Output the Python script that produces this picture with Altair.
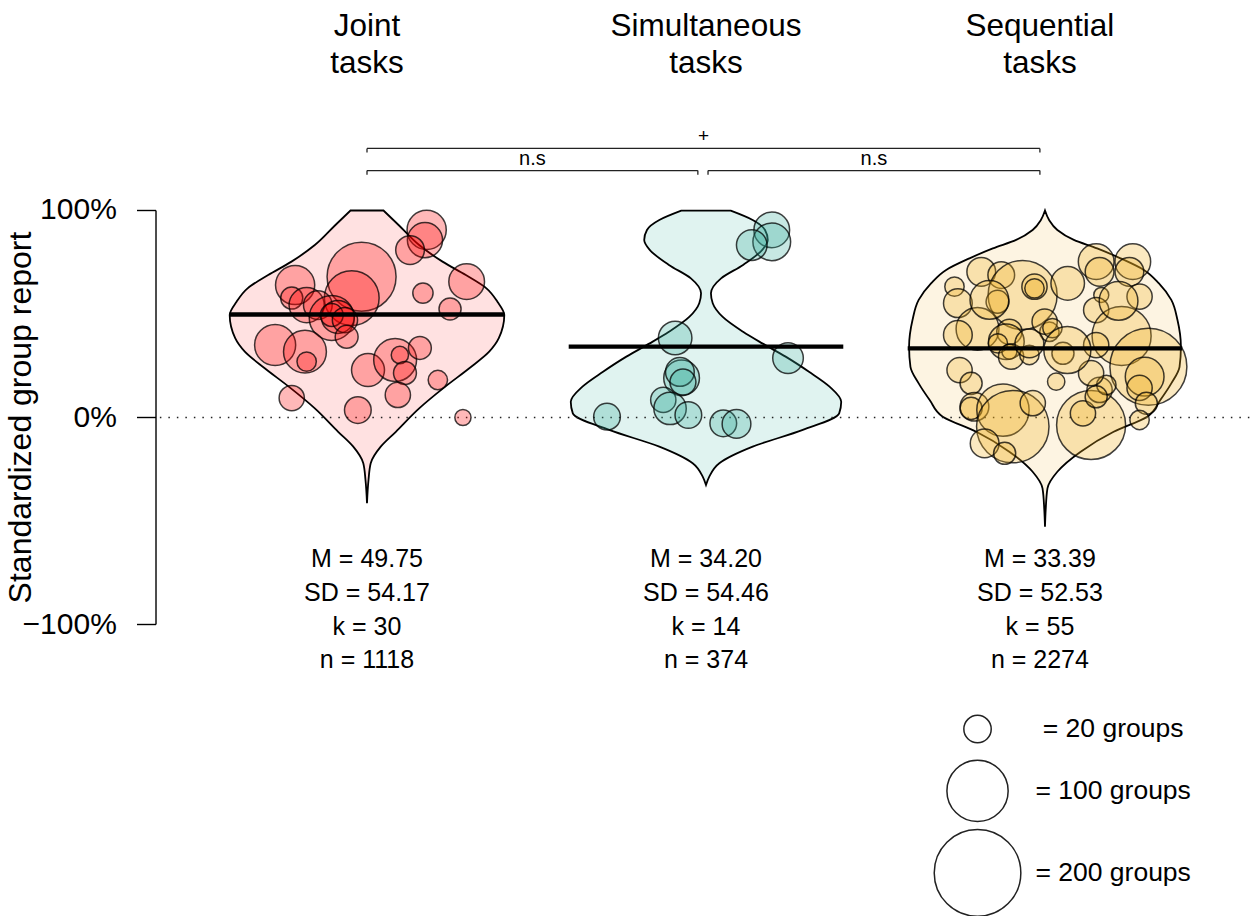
import altair as alt
import pandas as pd

# ---------------------------------------------------------------- data
groups = ["Joint", "Simultaneous", "Sequential"]
group_pos = [1.0, 2.0, 3.0]          # violin centres on the x scale
label_pos = [1.0, 2.0, 2.985]        # centres of the text under/above each violin
title_lines = [["Joint", "tasks"], ["Simultaneous", "tasks"], ["Sequential", "tasks"]]

point_colors = ["#ff0000", "#36ad9c", "#f0b020"]
violin_colors = ["#ffe1e1", "#e0f3f0", "#fdf4e2"]

means = [49.75, 34.20, 33.39]
sds = [54.17, 54.46, 52.53]
ks = [30, 14, 55]
ns = [1118, 374, 2274]

# violin outlines: y (%) and relative half-width (1 = widest)
joint_vy = [100, 93.0, 83.3, 75.3, 68.8, 62.4, 55.9, 49.5, 38.3, 31.8, 23.8, 14.9,
            4.4, -6.9, -14.1, -22.1, -30.2, -41.4]
joint_vd = [0.12, 0.23, 0.38, 0.55, 0.72, 0.87, 0.95, 1.0, 0.96, 0.89, 0.745, 0.57,
            0.38, 0.21, 0.10, 0.027, 0.011, 0.0]
sim_vy = [99.9, 95.4, 90.6, 85.8, 81.0, 73.7, 67.2, 60.0, 55.2, 48.7, 41.4, 35.8,
          29.4, 22.1, 14.9, 7.6, 2.0, -6.0, -14.1, -22.1, -28.6, -32.6]
sim_vd = [0.18, 0.34, 0.43, 0.45, 0.41, 0.27, 0.11, 0.036, 0.049, 0.12, 0.27, 0.41,
          0.58, 0.75, 0.90, 0.985, 0.97, 0.705, 0.34, 0.097, 0.024, 0.0]
seq_vy = [100, 95.4, 90.6, 85.8, 81.7, 76.9, 71.3, 64.8, 56.8, 47.1, 34.2, 24.5,
          16.5, 8.5, 0.4, -6.9, -16.5, -26.2, -34.2, -44.7, -52.8]
seq_vd = [0.0, 0.03, 0.09, 0.21, 0.38, 0.55, 0.72, 0.83, 0.92, 0.965, 0.99, 0.98,
          0.92, 0.84, 0.745, 0.50, 0.26, 0.09, 0.018, 0.005, 0.0]

# individual studies: standardized report (%), horizontal jitter, number of groups
joint_y = [90.6, 85.7, 80.9, 68.0, 57.7, 64.0, 57.7, 54.3, 54.3, 48.1, 48.6, 49.5,
           47.1, 39.0, 35.0, 31.8, 27.0, 22.9, 27.8, 30.2, 33.6, 21.5, 10.9, 18.1,
           60.1, 65.6, 52.4, 9.4, 3.6, 0.0]
joint_jit = [0.176, 0.171, 0.127, -0.016, -0.045, -0.212, -0.222, -0.178, -0.145,
             -0.104, -0.086, -0.104, -0.065, -0.060, -0.271, -0.183, -0.178, 0.003,
             0.083, 0.097, 0.156, 0.112, 0.091, 0.209, 0.165, 0.294, 0.245, -0.222,
             -0.027, 0.283]
joint_n = [41, 33, 22, 127, 80, 41, 13, 33, 22, 54, 29, 14, 17, 14, 45, 49, 10, 29,
           49, 8, 14, 14, 17, 10, 11, 34, 13, 17, 19, 7]

sim_y = [90.6, 84.9, 83.3, 38.4, 28.7, 19.1, 22.0, 17.1, 8.5, 4.4, 1.2, 0.4, -2.8, -3.1]
sim_jit = [0.194, 0.194, 0.135, -0.091, 0.242, -0.072, -0.077, -0.068, -0.126,
           -0.106, -0.052, -0.292, 0.051, 0.090]
sim_n = [34, 38, 25, 30, 25, 34, 22, 18, 17, 28, 19, 19, 19, 22]

seq_y = [70.4, 68.8, 63.2, 55.2, 59.2, 55.9, 63.2, 62.4, 42.8, 39.9, 41.4, 36.6,
         35.8, 31.8, 29.4, 30.2, 41.4, 46.3, 22.9, 64.8, 75.3, 70.4, 75.3, 70.4,
         58.4, 59.2, 51.9, 39.4, 35.0, 31.0, 43.2, 24.5, 19.7, 14.3, 6.9, -1.2,
         -3.6, 2.0, 13.3, 15.7, 10.0, 21.4, 17.3, 16.5, 5.2, 4.4, 3.6, -4.4, 6.9,
         -12.5, -17.3, 35.8, 32.6, 56.8, 56.3]
seq_jit = [-0.188, -0.129, -0.267, -0.257, -0.066, -0.140, -0.031, -0.031, -0.199,
           -0.257, -0.105, -0.114, -0.139, -0.105, -0.100, -0.046, 0.013, -0.001,
           -0.252, 0.067, 0.151, 0.161, 0.259, 0.249, 0.279, 0.166, 0.151, 0.226,
           0.151, 0.053, 0.022, 0.305, 0.294, 0.279, 0.299, 0.279, 0.136, 0.112,
           0.161, 0.181, 0.151, 0.136, 0.033, -0.218, -0.208, -0.218, -0.124,
           -0.095, -0.036, -0.178, -0.119, -0.046, 0.066, -0.164, 0.217]
seq_n = [22, 19, 10, 22, 127, 14, 17, 10, 49, 22, 17, 34, 10, 6, 17, 10, 10, 17,
         17, 30, 34, 22, 34, 22, 17, 6, 17, 93, 17, 13, 10, 158, 40, 17, 13, 10,
         127, 17, 17, 10, 13, 17, 8, 13, 22, 13, 73, 140, 17, 22, 13, 22, 59, 40, 40]

legend_n = [20, 100, 200]
legend_text = ["= 20 groups", "= 100 groups", "= 200 groups"]

y_ticks = [100, 0, -100]
y_tick_labels = ["100%", "0%", "\u2212100%"]

# ---------------------------------------------------------------- layout
W, H = 1255, 916
FONT = "Liberation Sans"
HALF = 0.405                      # half-width of the widest violin (x units)
x_scale = alt.Scale(domain=[-0.0826, 3.6195], nice=False, zero=False)
y_scale = alt.Scale(domain=[-240.82, 201.69], nice=False, zero=False)
# bubble area proportional to the number of groups in a study
size_scale = alt.Scale(type="linear", domain=[0, 200], range=[0, 7500], zero=True)


def X(field="x"):
    return alt.X(f"{field}:Q", scale=x_scale, axis=None, stack=None)


def Y(field="y"):
    return alt.Y(f"{field}:Q", scale=y_scale, axis=None)


# ---------------------------------------------------------------- violins
profiles = [(joint_vy, joint_vd), (sim_vy, sim_vd), (seq_vy, seq_vd)]
vrows = []
for g, pos, (vy, vd) in zip(groups, group_pos, profiles):
    for yv, d in zip(vy, vd):
        vrows.append({"group": g, "y": yv, "x": pos - HALF * d, "x2": pos + HALF * d})
vdf = pd.DataFrame(vrows)

violins = alt.Chart(vdf).mark_area(
    orient="horizontal", interpolate="monotone", stroke="black", strokeWidth=1.8,
    opacity=1
).encode(
    y=Y(), x=X(), x2="x2:Q",
    fill=alt.Fill("group:N", scale=alt.Scale(domain=groups, range=violin_colors),
                  legend=None),
)

# ---------------------------------------------------------------- zero line
zdf = pd.DataFrame({"x": [0.389], "x2": [3.6195], "y": [0]})
zero_line = alt.Chart(zdf).mark_rule(
    strokeDash=[1.5, 7], strokeWidth=1.6, color="#222222"
).encode(x=X(), x2="x2:Q", y=Y())

# ---------------------------------------------------------------- studies
pts = [(joint_y, joint_jit, joint_n), (sim_y, sim_jit, sim_n), (seq_y, seq_jit, seq_n)]
prows = []
for g, pos, (py, pj, pn) in zip(groups, group_pos, pts):
    for yv, j, n in zip(py, pj, pn):
        prows.append({"group": g, "y": yv, "x": pos + j, "groups": n})
pdf = pd.DataFrame(prows)

points = alt.Chart(pdf).mark_circle(
    stroke="black", strokeWidth=1.5, strokeOpacity=0.75, fillOpacity=0.28, opacity=1
).encode(
    x=X(), y=Y(),
    size=alt.Size("groups:Q", scale=size_scale, legend=None),
    color=alt.Color("group:N", scale=alt.Scale(domain=groups, range=point_colors),
                    legend=None),
)

# ---------------------------------------------------------------- means
mdf = pd.DataFrame({"x": [p - HALF for p in group_pos],
                    "x2": [p + HALF for p in group_pos], "y": means})
mean_lines = alt.Chart(mdf).mark_rule(strokeWidth=4.3, color="black", strokeCap="butt").encode(
    x=X(), x2="x2:Q", y=Y()
)

# ---------------------------------------------------------------- y axis
AX_X, TICK_X, LAB_X = 0.3776, 0.3215, 0.262
axis_line = alt.Chart(pd.DataFrame({"x": [AX_X], "y": [min(y_ticks)], "y2": [max(y_ticks)]})
                      ).mark_rule(color="black", strokeWidth=1.4).encode(x=X(), y=Y(), y2="y2:Q")
tick_df = pd.DataFrame({"x": [TICK_X] * 3, "x2": [AX_X] * 3, "y": y_ticks,
                        "label": y_tick_labels, "lx": [LAB_X] * 3})
axis_ticks = alt.Chart(tick_df).mark_rule(color="black", strokeWidth=1.4).encode(
    x=X(), x2="x2:Q", y=Y())
axis_labels = alt.Chart(tick_df).mark_text(
    font=FONT, fontSize=30, align="right", baseline="middle", color="black"
).encode(x=X("lx"), y=Y(), text="label:N")
axis_title = alt.Chart(pd.DataFrame({"x": [-0.022], "y": [0],
                                     "t": ["Standardized group report"]})).mark_text(
    font=FONT, fontSize=32, angle=270, align="center", baseline="middle", color="black"
).encode(x=X(), y=Y(), text="t:N")

# ---------------------------------------------------------------- titles
TITLE_TOP, TITLE_STEP = 188.6, -17.8
trows = []
for lp, lines in zip(label_pos, title_lines):
    for i, line in enumerate(lines):
        trows.append({"x": lp, "y": TITLE_TOP + i * TITLE_STEP, "t": line})
titles = alt.Chart(pd.DataFrame(trows)).mark_text(
    font=FONT, fontSize=31.5, align="center", baseline="middle", color="black"
).encode(x=X(), y=Y(), text="t:N")

# ---------------------------------------------------------------- summary stats
STAT_TOP, STAT_STEP = -68.4, -16.3
srows = []
for lp, m, s, k, n in zip(label_pos, means, sds, ks, ns):
    for i, line in enumerate([f"M = {m:.2f}", f"SD = {s:.2f}", f"k = {k}", f"n = {n}"]):
        srows.append({"x": lp, "y": STAT_TOP + i * STAT_STEP, "t": line})
stats = alt.Chart(pd.DataFrame(srows)).mark_text(
    font=FONT, fontSize=25, align="center", baseline="middle", color="black"
).encode(x=X(), y=Y(), text="t:N")

# ---------------------------------------------------------------- comparisons
TOP_Y, LOW_Y, DROP = 130.0, 119.3, 2.0
bracket_spans = [(1.0, 2.985, TOP_Y), (1.0, 1.976, LOW_Y), (2.006, 2.985, LOW_Y)]
bracket_marks = ["+", "n.s", "n.s"]
hrows, vrows2 = [], []
for (a, b, yy) in bracket_spans:
    hrows.append({"x": a, "x2": b, "y": yy})
    vrows2.append({"x": a, "y": yy, "y2": yy - DROP})
    vrows2.append({"x": b, "y": yy, "y2": yy - DROP})
br_h = alt.Chart(pd.DataFrame(hrows)).mark_rule(color="#222222", strokeWidth=1.3).encode(
    x=X(), x2="x2:Q", y=Y())
br_v = alt.Chart(pd.DataFrame(vrows2)).mark_rule(color="#222222", strokeWidth=1.3).encode(
    x=X(), y=Y(), y2="y2:Q")
mark_df = pd.DataFrame({"x": [(a + b) / 2 for a, b, _ in bracket_spans],
                        "y": [yy + 5.8 for _, _, yy in bracket_spans],
                        "t": bracket_marks})
plus_text = alt.Chart(mark_df.iloc[:1]).mark_text(
    font=FONT, fontSize=19, align="center", baseline="middle", color="black"
).encode(x=X(), y=Y(), text="t:N")
ns_text = alt.Chart(mark_df.iloc[1:]).mark_text(
    font=FONT, fontSize=20, align="center", baseline="middle", color="black"
).encode(x=X(), y=Y(), text="t:N")

# ---------------------------------------------------------------- size key
LEG_X, LEG_TX = 2.801, 3.201
leg_df = pd.DataFrame({"x": [LEG_X] * 3, "tx": [LEG_TX] * 3,
                       "y": [-150.5, -180.4, -220.0], "groups": legend_n,
                       "t": legend_text})
leg_circles = alt.Chart(leg_df).mark_circle(
    fill="white", fillOpacity=0, stroke="#222222", strokeWidth=1.5, opacity=1
).encode(x=X(), y=Y(), size=alt.Size("groups:Q", scale=size_scale, legend=None))
leg_text = alt.Chart(leg_df).mark_text(
    font=FONT, fontSize=26.5, align="center", baseline="middle", color="black"
).encode(x=X("tx"), y=Y(), text="t:N")

chart = alt.layer(
    violins, zero_line, points, mean_lines,
    axis_line, axis_ticks, axis_labels, axis_title,
    titles, stats, br_h, br_v, plus_text, ns_text, leg_circles, leg_text,
).properties(
    width=W, height=H, autosize=alt.AutoSizeParams(type="none"), padding=0,
    background="white",
).configure_view(stroke=None)

chart.save("out.html", embed_options={"renderer": "svg", "actions": False})
